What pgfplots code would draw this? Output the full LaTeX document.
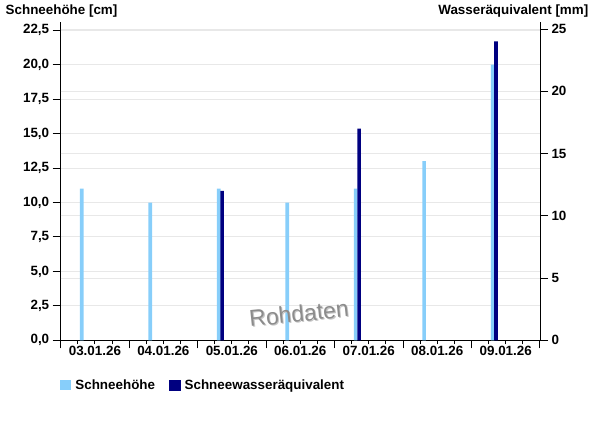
\documentclass[border=0pt]{standalone}
\usepackage{pgfplots}
\pgfplotsset{compat=1.18}
\usepackage{fontspec}
\setmainfont{Liberation Sans}
\definecolor{lblue}{HTML}{87CEFA}
\definecolor{navyc}{HTML}{000080}
\definecolor{gridc}{HTML}{E8E8E8}

\begin{document}
\begin{tikzpicture}[font=\fontsize{13.4bp}{15bp}\selectfont\bfseries]
\path[use as bounding box] (0,0) rectangle (600bp,426bp);
\node[anchor=base west, inner sep=0pt] at (5.5bp,411bp) {Schneehöhe [cm]};
\node[anchor=base east, inner sep=0pt] at (588.5bp,411bp) {Wasseräquivalent [mm]};
\begin{axis}[
  at={(60.7bp,85.7bp)}, anchor=south west,
  width=479.3bp, height=318bp, scale only axis,
  xmin=0, xmax=7, ymin=0, ymax=23.08,
  axis x line*=bottom, axis y line*=left,
  axis line style={black, line width=1bp},
  every tick/.style={black, line width=1bp},
  tick align=outside,
  major tick length=8bp, minor tick length=4bp,
  xtick={0,...,7},
  xticklabels={03.01.26,04.01.26,05.01.26,06.01.26,07.01.26,08.01.26,09.01.26,{}},
  xticklabel style={xshift=34.2bp, yshift=6bp},
  minor x tick num=3,
  ytick={0,2.5,...,22.5},
  yticklabel style={/pgf/number format/.cd, fixed, fixed zerofill, precision=1, use comma, assume math mode=true},
  ymajorgrids, grid style={gridc, line width=1bp},
  extra y ticks={4.518,9.037,13.555,18.074,22.592},
  extra y tick labels={},
  extra y tick style={major tick length=0pt, grid=major, tick style={draw=none}},
  legend style={at={(0,0)}, anchor=west, xshift=-0.7bp, yshift=-44.7bp, draw=none, fill=none,
    legend columns=2, inner sep=0pt,
    nodes={inner sep=0pt},
    /tikz/every odd column/.append style={column sep=4.5bp},
    /tikz/every even column/.append style={column sep=14bp}},
  legend cell align=left,
]
\addplot[ybar, bar width=3.6bp, bar shift=0pt, fill=lblue, draw=none,
  legend image code/.code={\fill[lblue] (0bp,-5.3bp) rectangle (10.7bp,5.3bp);}]
  coordinates {(0.308,11) (1.308,10) (2.308,11) (3.308,10) (4.308,11) (5.308,13) (6.308,20)};
\addlegendentry{Schneehöhe}
\addlegendimage{legend image code/.code={\fill[navyc] (0bp,-5.3bp) rectangle (10.7bp,5.3bp);}}
\addlegendentry{Schneewasseräquivalent}
\node[rotate=6, text=gray!45, font=\fontsize{23bp}{23bp}\selectfont\mdseries] at (axis cs:3.495,1.88) {Rohdaten};
\node[rotate=6, text=gray!90, font=\fontsize{23bp}{23bp}\selectfont\mdseries] at (axis cs:3.48,1.94) {Rohdaten};
\end{axis}
\begin{axis}[
  at={(60.7bp,85.7bp)}, anchor=south west,
  width=479.3bp, height=318bp, scale only axis,
  xmin=0, xmax=7, ymin=0, ymax=25.54,
  axis x line=none, axis y line*=right,
  axis line style={black, line width=1bp},
  every tick/.style={black, line width=1bp},
  tick align=outside,
  major tick length=8bp,
  ytick={0,5,...,25},
  yticklabel style={/pgf/number format/assume math mode=true},
]
\addplot[ybar, bar width=3.6bp, bar shift=0pt, fill=navyc, draw=none]
  coordinates {(2.358,12) (4.358,17) (6.358,24)};
\end{axis}
\end{tikzpicture}
\end{document}
